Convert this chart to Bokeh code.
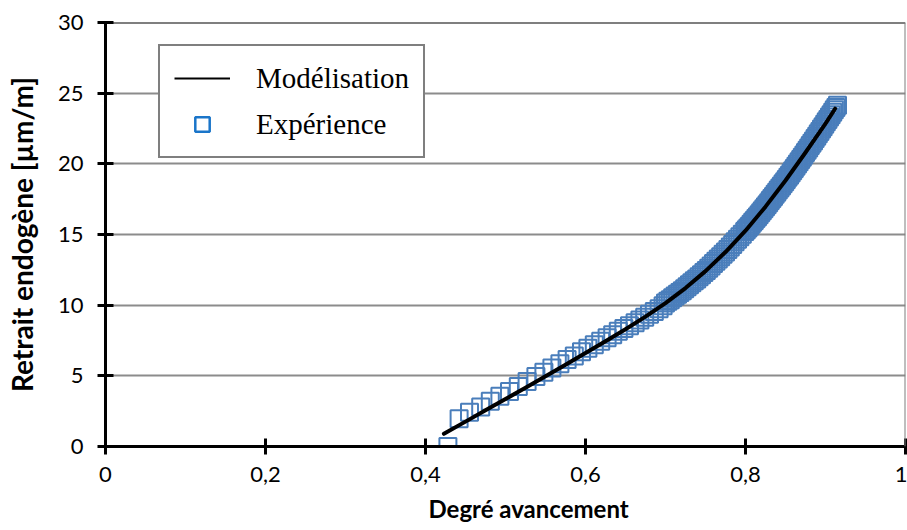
from bokeh.plotting import figure
from bokeh.models import FixedTicker, Legend, LegendItem, Span, Title
from bokeh.embed import file_html
from bokeh.resources import INLINE

# Modelled endogenous shrinkage vs. degree of hydration
model_degree = [0.423, 0.45, 0.475, 0.50, 0.525, 0.55, 0.575, 0.60, 0.625, 0.65,
                0.675, 0.70, 0.725, 0.75, 0.775, 0.80, 0.825, 0.85, 0.875, 0.90,
                0.912]
model_shrinkage = [0.90, 1.76, 2.56, 3.36, 4.16, 4.97, 5.79, 6.62, 7.45, 8.30,
                   9.19, 10.15, 11.21, 12.41, 13.76, 15.27, 16.97, 18.82, 20.80, 22.85,
                   23.90]

# Measured endogenous shrinkage
exp_degree = [0.428, 0.442, 0.455, 0.469, 0.481, 0.493, 0.505, 0.516, 0.527, 0.538,
              0.548, 0.558, 0.568, 0.577, 0.586, 0.595, 0.603, 0.611, 0.619, 0.627,
              0.634, 0.641, 0.648, 0.655, 0.662, 0.668, 0.674, 0.680, 0.686, 0.692,
              0.697,
              0.700, 0.703, 0.706, 0.709, 0.712, 0.715, 0.718, 0.721, 0.724, 0.727,
              0.730, 0.733, 0.736, 0.739, 0.742, 0.745, 0.748, 0.751, 0.754, 0.757,
              0.760, 0.763, 0.766, 0.769, 0.772, 0.775, 0.778, 0.781, 0.784, 0.787,
              0.790, 0.793, 0.796, 0.799,
              0.801, 0.803, 0.805, 0.807, 0.809, 0.811, 0.813, 0.815, 0.817, 0.819,
              0.821, 0.823, 0.825, 0.827, 0.829, 0.831, 0.833, 0.835, 0.837, 0.839,
              0.841, 0.843, 0.845, 0.847, 0.849, 0.851, 0.853, 0.855, 0.857, 0.859,
              0.861, 0.863, 0.865, 0.867, 0.869, 0.871, 0.873, 0.875, 0.877, 0.879,
              0.881, 0.883, 0.885, 0.887, 0.889, 0.891, 0.893, 0.895, 0.897, 0.899,
              0.901, 0.903, 0.905, 0.907, 0.909, 0.911, 0.913, 0.915]
exp_shrinkage = [0.0, 1.96, 2.43, 2.8, 3.2, 3.55, 3.9, 4.25, 4.6, 4.95,
                 5.25, 5.55, 5.85, 6.15, 6.4, 6.7, 6.95, 7.2, 7.45, 7.7,
                 7.9, 8.15, 8.35, 8.55, 8.75, 8.95, 9.15, 9.35, 9.55, 9.75,
                 9.95,
                 10.15, 10.27, 10.39, 10.52, 10.64, 10.77, 10.89, 11.02, 11.16, 11.30,
                 11.44, 11.58, 11.72, 11.86, 12.01, 12.16, 12.31, 12.46, 12.62, 12.78,
                 12.94, 13.10, 13.26, 13.43, 13.60, 13.76, 13.94, 14.12, 14.30, 14.48,
                 14.66, 14.84, 15.02, 15.21,
                 15.33, 15.46, 15.59, 15.72, 15.86, 15.99, 16.13, 16.26, 16.40, 16.54,
                 16.68, 16.82, 16.97, 17.11, 17.25, 17.40, 17.55, 17.69, 17.84, 17.99,
                 18.14, 18.29, 18.44, 18.59, 18.74, 18.90, 19.05, 19.20, 19.36, 19.51,
                 19.67, 19.83, 19.98, 20.14, 20.30, 20.46, 20.63, 20.80, 20.96, 21.12,
                 21.29, 21.45, 21.62, 21.79, 21.95, 22.12, 22.29, 22.46, 22.63, 22.80,
                 22.97, 23.14, 23.31, 23.48, 23.65, 23.82, 23.99, 24.15]

x_ticks = [0, 0.2, 0.4, 0.6, 0.8, 1.0]
x_tick_labels = ["0", "0,2", "0,4", "0,6", "0,8", "1"]
y_ticks = [0, 5, 10, 15, 20, 25, 30]
x_title = "Degré avancement"
y_title = "Retrait endogène [µm/m]"

SANS = "Lato"
p = figure(width=907, height=530, x_range=(0, 1), y_range=(0, 30),
           output_backend="svg", toolbar_location=None,
           min_border_left=105, min_border_right=2,
           min_border_top=22, min_border_bottom=84)
p.outline_line_color = None
p.background_fill_color = "white"
p.border_fill_color = "white"

# horizontal gray grid lines only
p.xgrid.grid_line_color = None
p.ygrid.grid_line_color = "#8c8c8c"
p.ygrid.grid_line_width = 2
p.ygrid.ticker = FixedTicker(ticks=y_ticks[1:-1])

# top and right edges of the plot area
p.add_layout(Span(location=30, dimension="width", line_color="black", line_width=2))
p.add_layout(Span(location=1, dimension="height", line_color="#7f7f7f", line_width=2))

for ax in (p.xaxis[0], p.yaxis[0]):
    ax.axis_line_color = "black"
    ax.axis_line_width = 3
    ax.major_tick_line_color = "black"
    ax.major_tick_line_width = 3
    ax.major_tick_in = 8
    ax.major_tick_out = 8
    ax.minor_tick_line_color = None
    ax.major_label_text_font = SANS
    ax.major_label_text_font_size = "22px"
    ax.major_label_text_color = "black"

p.xaxis.ticker = FixedTicker(ticks=x_ticks)
p.xaxis.major_label_overrides = {t: l for t, l in zip(x_ticks, x_tick_labels)}
p.xaxis.major_label_standoff = 12

p.yaxis.ticker = FixedTicker(ticks=y_ticks)
p.yaxis.major_label_standoff = 14
p.yaxis.axis_label = y_title
p.yaxis.axis_label_text_font = SANS
p.yaxis.axis_label_text_font_style = "bold"
p.yaxis.axis_label_text_font_size = "28px"
p.yaxis.axis_label_text_color = "black"
p.yaxis.axis_label_standoff = 16

# x title as a side title, placed from the start of the axis
p.add_layout(Title(text=x_title, align="left", offset=323, standoff=14,
                   text_font=SANS, text_font_style="bold",
                   text_font_size="24px", text_color="black"), "below")

# measured points: hollow squares
exp_r = p.scatter(exp_degree, exp_shrinkage, marker="square", size=17,
                  fill_color=None, line_color="#4a7ebb", line_width=2)
# model curve
model_r = p.line(model_degree, model_shrinkage, line_color="black",
                 line_width=4, line_cap="round", line_join="round")

# legend glyph proxies (drawn only in the legend box)
leg_line = p.line([0.5], [10], line_color="black", line_width=2, visible=False)
leg_sq = p.scatter([0.5], [10], marker="square", fill_color=None,
                   line_color="#1a75c9", line_width=2.5, visible=False)

legend = Legend(items=[LegendItem(label="Modélisation", renderers=[leg_line]),
                       LegendItem(label="Expérience", renderers=[leg_sq])],
                location=(53, 288))
legend.label_text_font = "Liberation Serif"
legend.label_text_font_size = "29px"
legend.label_text_color = "black"
legend.border_line_color = "black"
legend.border_line_width = 2
legend.background_fill_color = "white"
legend.background_fill_alpha = 1
legend.padding = 14
legend.spacing = 10
legend.glyph_width = 56
legend.glyph_height = 36
legend.label_height = 36
legend.label_standoff = 26
legend.margin = 0
p.add_layout(legend)

open("out.html", "w").write(file_html(p, INLINE))
